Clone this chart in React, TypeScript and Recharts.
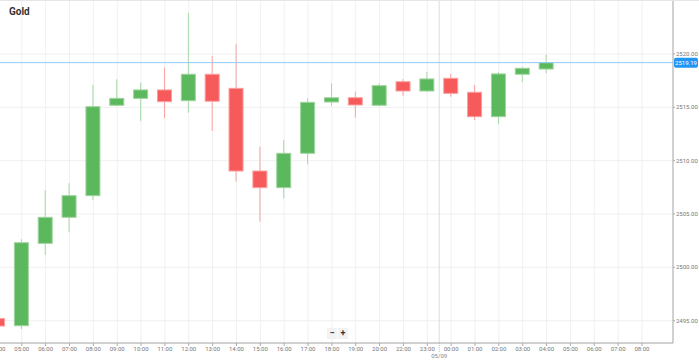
import React from "react";
import {
  ComposedChart,
  Bar,
  XAxis,
  YAxis,
  CartesianGrid,
  ReferenceLine,
} from "recharts";

// hourly slots on the x axis (21:00 missing = market break)
const hours = [
  "04:00", "05:00", "06:00", "07:00", "08:00", "09:00", "10:00", "11:00",
  "12:00", "13:00", "14:00", "15:00", "16:00", "17:00", "18:00", "19:00",
  "20:00", "22:00", "23:00", "00:00", "01:00", "02:00", "03:00", "04:00",
  "05:00", "06:00", "07:00", "08:00",
];

const opens = [
  2495.2, 2494.53, 2502.25, 2504.69, 2506.72, 2515.19, 2515.84, 2516.63,
  2515.62, 2518.1, 2516.78, 2509.03, 2507.47, 2510.69, 2515.5, 2515.9,
  2515.19, 2517.4, 2516.53, 2517.72, 2516.41, 2514.12, 2518.1, 2518.59,
];
const highs = [
  2495.5, 2502.63, 2507.25, 2507.88, 2517.09, 2517.63, 2517.31, 2518.72,
  2523.85, 2519.81, 2520.96, 2511.31, 2511.94, 2515.84, 2517.25, 2516.47,
  2517.25, 2517.63, 2518.34, 2518.13, 2517.09, 2518.34, 2518.81, 2519.94,
];
const lows = [
  2494.3, 2494.22, 2501.16, 2503.28, 2506.31, 2515.1, 2513.72, 2513.97,
  2514.5, 2512.78, 2508.03, 2504.28, 2506.47, 2509.66, 2515.15, 2514.03,
  2515.1, 2516.06, 2516.45, 2516.0, 2513.81, 2513.41, 2517.35, 2518.19,
];
const closes = [
  2494.5, 2502.31, 2504.69, 2506.72, 2515.06, 2515.84, 2516.63, 2515.53,
  2518.1, 2515.57, 2509.03, 2507.47, 2510.69, 2515.47, 2515.9, 2515.22,
  2517.03, 2516.53, 2517.66, 2516.31, 2514.12, 2518.13, 2518.66, 2519.19,
];

const priceTicks = [2495, 2500, 2505, 2510, 2515, 2520];
const lastPrice = 2519.19;
const dayBreak = 18.5;
const dayLabel = "05/09";

const GREEN = "#5cb85c";
const RED = "#f65a5a";

const data = opens.map((o, i) => ({
  idx: i,
  open: o,
  close: closes[i],
  high: highs[i],
  low: lows[i],
  range: [lows[i], highs[i]],
}));

const Candle = (props: any) => {
  const { x, y, width, height, payload } = props;
  if (x == null || y == null) return null;
  const { open, close, high, low } = payload;
  const up = close >= open;
  const top = Math.min(y, y + height);
  const h = Math.abs(height);
  const ratio = h / (high - low || 1);
  const yOf = (v: number) => top + (high - v) * ratio;
  const cx = x + width / 2;
  const bTop = yOf(Math.max(open, close));
  const bBot = yOf(Math.min(open, close));
  return (
    <g>
      <line
        x1={cx}
        x2={cx}
        y1={top}
        y2={top + h}
        stroke={up ? "#a6d9a6" : "#f8a3a3"}
        strokeWidth={1}
      />
      <rect
        x={x + 0.5}
        y={bTop}
        width={width - 1}
        height={Math.max(bBot - bTop, 1)}
        fill={up ? GREEN : RED}
        stroke={up ? "#9fd49f" : "#f9a0a0"}
        strokeWidth={1}
      />
    </g>
  );
};

const PriceTag = (props: any) => {
  const vb = props.viewBox || {};
  const px = vb.x + vb.width + 1;
  return (
    <g>
      <rect x={px} y={vb.y - 5} width={24} height={10} rx={2} fill="#2196f3" />
      <text
        x={px + 12}
        y={vb.y + 2}
        textAnchor="middle"
        fontSize={6}
        fill="#ffffff"
        fontFamily="Roboto, sans-serif"
      >
        {lastPrice.toFixed(2)}
      </text>
    </g>
  );
};

const DayTag = (props: any) => {
  const vb = props.viewBox || {};
  const bottom = vb.y + vb.height;
  return (
    <g>
      <line
        x1={vb.x}
        x2={vb.x}
        y1={bottom}
        y2={bottom + 9}
        stroke="#bbbbbb"
        strokeDasharray="1 1"
      />
      <text
        x={vb.x}
        y={bottom + 15}
        textAnchor="middle"
        fontSize={6}
        fill="#888888"
        fontFamily="Roboto, sans-serif"
      >
        {dayLabel}
      </text>
    </g>
  );
};

const tickStyle = { fontSize: 6, fill: "#777777", fontFamily: "Roboto, sans-serif" };

export default function App() {
  return (
    <div
      style={{
        position: "absolute",
        left: 0,
        top: 0,
        width: 699,
        height: 361,
        overflow: "hidden",
        background: "#ffffff",
        borderTop: "1px solid #e6e6e6",
        boxSizing: "border-box",
      }}
    >
      <div style={{ position: "absolute", left: -14, top: -1 }}>
        <ComposedChart
          width={713}
          height={362}
          data={data}
          margin={{ top: 0, right: 0, bottom: 0, left: 0 }}
        >
          <CartesianGrid stroke="#f0f0f0" />
          <XAxis
            type="number"
            dataKey="idx"
            domain={[-0.5, 28.3]}
            allowDataOverflow
            ticks={hours.map((_, i) => i)}
            interval={0}
            tickFormatter={(i: number) => hours[i] ?? ""}
            tick={tickStyle}
            tickSize={3}
            tickMargin={1}
            height={19}
            stroke="#aaaaaa"
          />
          <YAxis
            orientation="right"
            domain={[2492.91, 2525.06]}
            allowDataOverflow
            ticks={priceTicks}
            tickFormatter={(v: number) => v.toFixed(2)}
            tick={tickStyle}
            tickSize={2}
            tickMargin={1}
            width={26}
            stroke="#aaaaaa"
          />
          <ReferenceLine
            x={dayBreak}
            stroke="#dddddd"
            label={<DayTag />}
          />
          <Bar
            dataKey="range"
            barSize={15}
            shape={<Candle />}
            isAnimationActive={false}
          />
          <ReferenceLine
            y={lastPrice}
            stroke="#90cbf9"
            strokeWidth={1}
            label={<PriceTag />}
          />
        </ComposedChart>
      </div>
      <div
        style={{
          position: "absolute",
          left: 9,
          top: 5,
          fontFamily: "Roboto, sans-serif",
          fontWeight: 700,
          fontSize: 10,
          color: "#333333",
        }}
      >
        Gold
      </div>
      <div
        style={{
          position: "absolute",
          left: 327,
          top: 327,
          display: "flex",
          gap: 1,
          fontFamily: "Roboto, sans-serif",
          fontWeight: 700,
          fontSize: 9,
          color: "#333333",
        }}
      >
        <div style={{ width: 10, height: 11, background: "#f2f2f2", textAlign: "center", lineHeight: "11px" }}>−</div>
        <div style={{ width: 10, height: 11, background: "#f2f2f2", textAlign: "center", lineHeight: "11px" }}>+</div>
      </div>
    </div>
  );
}
